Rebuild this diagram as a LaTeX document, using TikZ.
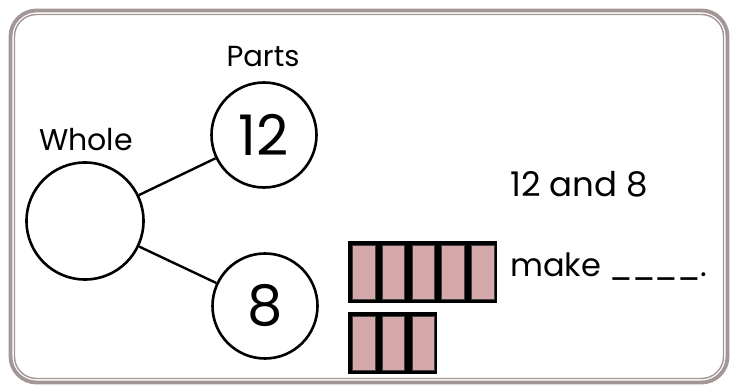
\documentclass[tikz,border=0pt]{standalone}
\usepackage{fontspec}
\setmainfont{Poppins}
\definecolor{framegray}{HTML}{A39696}
\definecolor{blockpink}{HTML}{D5A9AA}
\tikzset{
    bond/.style={circle, draw=black, line width=2.6pt, inner sep=0pt},
    cell/.style={draw=black!75, line width=1pt, fill=blockpink}
}
\begin{document}
\begin{tikzpicture}[x=1pt,y=-1pt]
    \useasboundingbox (0,0) rectangle (738,387);

    % Frame
    \draw[framegray, line width=3.8pt, rounded corners=26pt] (10.5,10.5) rectangle (727.5,382.5);
    \draw[framegray, line width=1.4pt, rounded corners=22pt] (14.5,14.5) rectangle (723.5,378.5);

    % Part-whole circles
    \node[bond, minimum size=117pt] (whole) at (85,221) {};
    \node[bond, minimum size=105pt] (twelve) at (264,135) {\fontsize{56}{56}\selectfont 12};
    \node[bond, minimum size=105pt] (eight) at (265,306) {\fontsize{56}{56}\selectfont 8};
    \draw[line width=2.4pt] (whole) -- (twelve);
    \draw[line width=2.4pt] (whole) -- (eight);

    % Labels
    \node[font=\fontsize{30}{30}\selectfont] (wholelabel) at (86,140) {Whole};
    \node[font=\fontsize{29}{29}\selectfont] (partslabel) at (263,57) {Parts};
    \node[anchor=base west, inner sep=0pt, font=\fontsize{34}{34}\selectfont] (sumtop) at (510,197) {12 and 8};
    \node[anchor=base west, inner sep=0pt, font=\fontsize{32}{32}\selectfont] (sumbot) at (510,276) {make \_\hspace{-1pt}\_\hspace{-1pt}\_\hspace{-1pt}\_.};

    % Blocks
    \foreach \i in {0,...,4}{
        \fill[black] (348+\i*29.8,241) rectangle (377.8+\i*29.8,303);
        \draw[cell] (352.5+\i*29.8,245.5) rectangle (375+\i*29.8,299);
    }
    \foreach \i in {0,...,2}{
        \fill[black] (348+\i*29.8,312) rectangle (377.8+\i*29.8,374);
        \draw[cell] (352.5+\i*29.8,316.5) rectangle (375+\i*29.8,370);
    }
\end{tikzpicture}
\end{document}
